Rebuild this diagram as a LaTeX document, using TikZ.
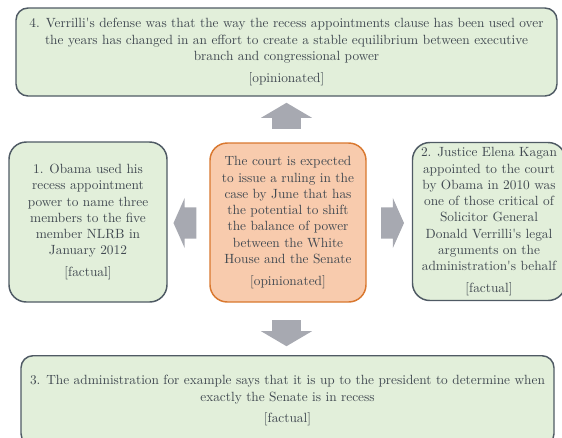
\documentclass[tikz,border=0pt]{standalone}
\usepackage{fontspec}
\usetikzlibrary{shapes.arrows}
\definecolor{boxgreen}{HTML}{E2EFDA}
\definecolor{boxline}{HTML}{4F5A64}
\definecolor{boxorange}{HTML}{F8CBAD}
\definecolor{orangeline}{HTML}{D9782F}
\definecolor{arrowgray}{HTML}{A7A9B1}
\definecolor{textgray}{HTML}{404850}

\begin{document}
\begin{tikzpicture}[x=0.75pt,y=-0.75pt]
\tikzset{claim/.style = {shape=rectangle,rounded corners=13pt,draw=boxline,line width=1.1pt,
  fill=boxgreen,align=center,text=textgray,inner sep=2pt,
  font=\fontsize{10}{12.2}\selectfont}}
\tikzset{main/.style = {claim,draw=orangeline,fill=boxorange}}
\tikzset{hblock/.style = {shape=single arrow,fill=arrowgray,draw=none,inner xsep=0pt,
  inner ysep=11.6pt,single arrow head extend=7.1pt,single arrow tip angle=132,minimum height=17.25pt}}
\tikzset{vblock/.style = {shape=single arrow,fill=arrowgray,draw=none,inner xsep=0pt,
  inner ysep=10.5pt,single arrow head extend=8.6pt,single arrow tip angle=119,minimum height=19.5pt}}
\useasboundingbox (0,0) rectangle (562,437);
% NODES
\node[main,minimum width=117pt,minimum height=119.25pt] (court) at (288,222.5)
  {The court is expected\\to issue a ruling in the\\case by June that has\\the potential to shift\\the balance of power\\between the White\\House and the Senate\\[4pt][opinionated]};
\node[claim,minimum width=118.5pt,minimum height=120pt] (obama) at (88,222)
  {1. Obama used his\\recess appointment\\power to name three\\members to the five\\member NLRB in\\January 2012\\[4pt][factual]};
\node[claim,minimum width=114.75pt,minimum height=118.5pt] (kagan) at (489,221.5)
  {2. Justice Elena Kagan\\appointed to the court\\by Obama in 2010 was\\one of those critical of\\Solicitor General\\Donald Verrilli\textquotesingle s legal\\arguments on the\\administration\textquotesingle s behalf\\[4pt][factual]};
\node[claim,rounded corners=9pt,minimum width=399.75pt,minimum height=67.5pt,anchor=north] (admin) at (287.5,355)
  {3. The administration for example says that it is up to the president to determine when\\exactly the Senate is in recess\\[4pt][factual]};
\node[claim,rounded corners=9pt,minimum width=405.75pt,minimum height=66pt] (verr) at (286.5,52)
  {4. Verrilli\textquotesingle s defense was that the way the recess appointments clause has been used over\\the years has changed in an effort to create a stable equilibrium between executive\\branch and congressional power\\[4pt][opinionated]};
% ARROWS
\node[vblock,rotate=90] (up) at (286.5,120) {};
\node[vblock,rotate=-90] (down) at (286.5,329) {};
\node[hblock,rotate=180] (left) at (188.5,223) {};
\node[hblock] (right) at (389,223) {};
\end{tikzpicture}
\end{document}
